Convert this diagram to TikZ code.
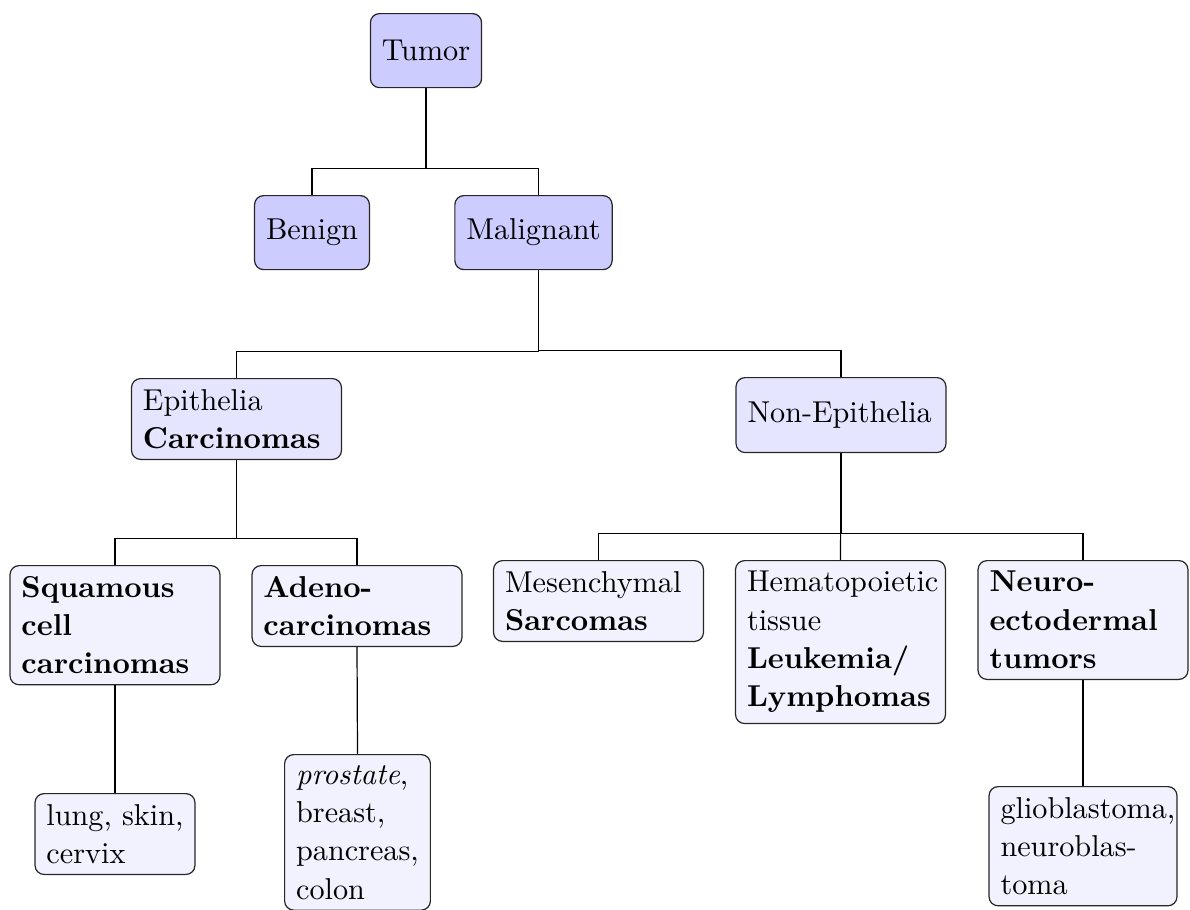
\documentclass[tikz,border=0pt]{standalone}
\usetikzlibrary{positioning}
\tikzset{
  box/.style={draw=black!85, line width=0.4pt, rounded corners=3pt,
    inner xsep=3.8pt, inner ysep=3.5pt, anchor=north,
    font=\fontsize{10}{12.7}\selectfont},
  topbox/.style={box, fill=blue!20, minimum height=24.5pt},
  midbox/.style={box, fill=blue!10, text width=61.9pt, align=left},
  midone/.style={midbox, minimum height=24.8pt},
  fambox/.style={midbox, fill=blue!5},
  leafbox/.style={box, fill=blue!5, align=left},
  link/.style={draw=black, line width=0.4pt},
}
\begin{document}
\begin{tikzpicture}[x=0.331pt,y=-0.331pt]
\useasboundingbox (0,0) rectangle (1190,909);

% root and first split
\node[topbox] (tumor)  at (426,13)   {Tumor};
\node[topbox] (benign) at (312,195)  {Benign};
\node[topbox] (malig)  at (533.5,195) {Malignant};

% tissue of origin
\node[midbox] (epi)    at (236.5,378) {Epithelia\\\textbf{Carcinomas}};
\node[midone] (nonepi) at (841,377)   {Non-Epithelia};

% tumour families
\node[fambox] (squam)  at (115,565)   {\textbf{Squamous}\\\textbf{cell}\\\textbf{carcinomas}};
\node[fambox] (adeno)  at (357,565)   {\textbf{Adeno-}\\\textbf{carcinomas}};
\node[fambox] (mesen)  at (598.5,560) {Mesenchymal\\\textbf{Sarcomas}};
\node[fambox] (hemato) at (840.5,560) {Hematopoietic\\tissue\\\textbf{Leukemia/}\\\textbf{Lymphomas}};
\node[fambox] (neuro)  at (1083,560)  {\textbf{Neuro-}\\\textbf{ectodermal}\\\textbf{tumors}};

% examples
\node[leafbox] (lung)  at (115,793)   {lung, skin,\\cervix};
\node[leafbox] (prost) at (357.5,754) {\emph{prostate},\\breast,\\pancreas,\\colon};
\node[leafbox, text width=54.6pt] (glio) at (1083,786) {glioblastoma,\\neuroblas-\\toma};

% elbow connectors
\draw[link] (tumor.south) |- ([yshift=8.9pt]benign.north) -- (benign.north);
\draw[link] (tumor.south) |- ([xshift=1.6pt,yshift=8.9pt]malig.north) -- ([xshift=1.6pt]malig.north);

\draw[link] ([xshift=1.6pt]malig.south) |- ([yshift=8.9pt]epi.north) -- (epi.north);
\draw[link] ([xshift=1.6pt]malig.south) |- ([yshift=8.9pt]nonepi.north) -- (nonepi.north);

\draw[link] (epi.south) |- ([yshift=8.9pt]squam.north) -- (squam.north);
\draw[link] (epi.south) |- ([yshift=8.9pt]adeno.north) -- (adeno.north);

\draw[link] (nonepi.south) |- ([yshift=8.9pt]mesen.north) -- (mesen.north);
\draw[link] (nonepi.south) -- (hemato.north);
\draw[link] (nonepi.south) |- ([yshift=8.9pt]neuro.north) -- (neuro.north);

\draw[link] (squam.south) -- (lung.north);
\draw[link] (adeno.south) -- (prost.north);
\draw[link] (neuro.south) -- (glio.north);
\end{tikzpicture}
\end{document}
